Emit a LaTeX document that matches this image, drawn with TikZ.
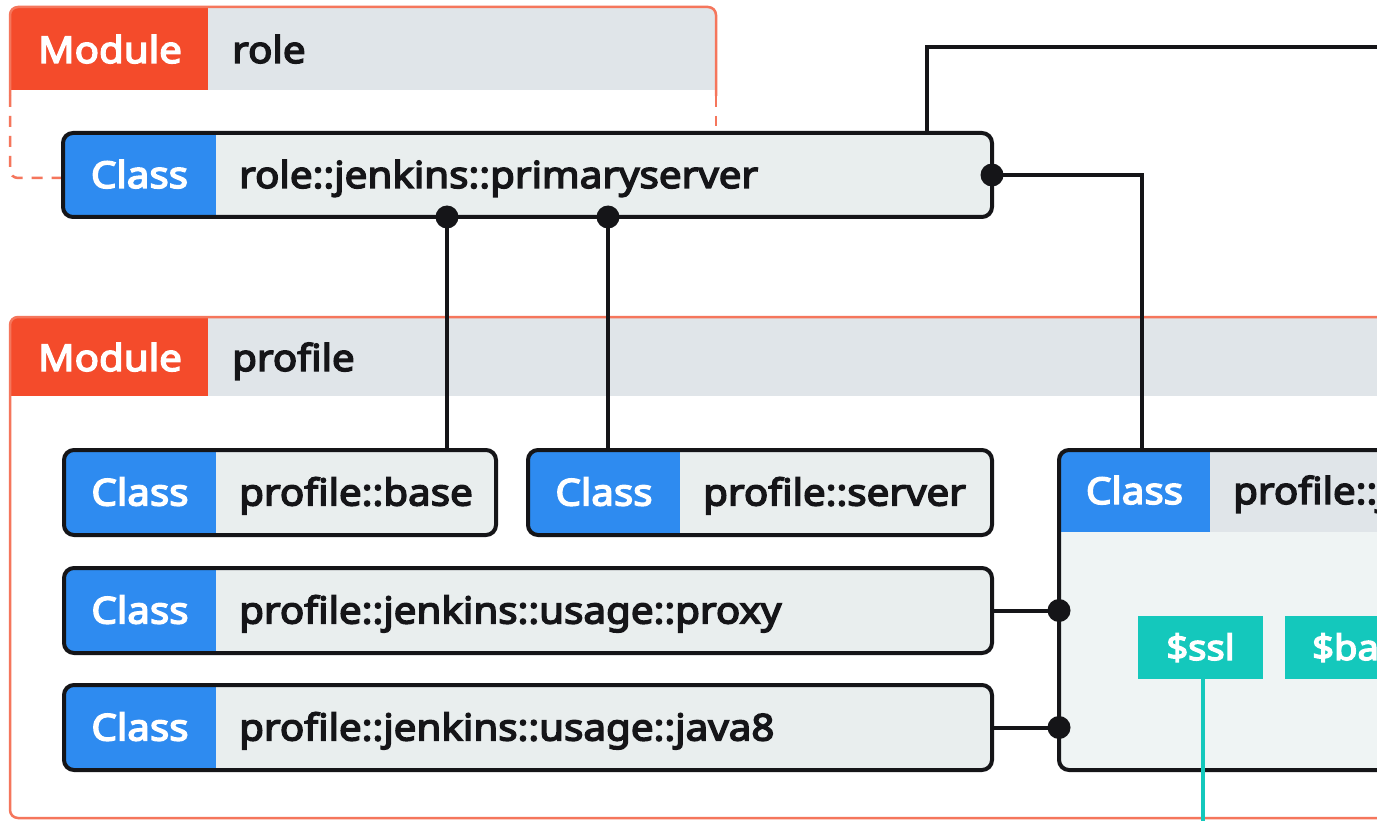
\documentclass[tikz,border=0pt]{standalone}
\usepackage{fontspec}
\setmainfont{Noto Sans}[FakeStretch=1.09, AutoFakeBold=4]
\definecolor{modorange}{HTML}{F44B2B}
\definecolor{modborder}{HTML}{F5765C}
\definecolor{hdrgray}{HTML}{E0E5E9}
\definecolor{clsblue}{HTML}{2E8BF0}
\definecolor{clsgray}{HTML}{E9EEEE}
\definecolor{bodyfill}{HTML}{EFF4F4}
\definecolor{varteal}{HTML}{14C8BC}
\definecolor{ink}{HTML}{151518}
\tikzset{
  lnk/.style={draw=ink, line width=4pt},
  jdot/.style={circle, fill=ink, inner sep=0pt, minimum size=23pt},
  clsfill/.style={rectangle, fill=clsgray, rounded corners=10pt, inner sep=0pt, outer sep=0pt},
  clsborder/.style={draw=ink, line width=4pt, rounded corners=10pt},
  whitetxt/.style={text=white, inner sep=0pt, anchor=base},
  darktxt/.style={text=ink, inner sep=0pt, anchor=base west},
  modline/.style={draw=modborder, line width=2.5pt, rounded corners=8pt},
  moddash/.style={modline, dash pattern=on 11pt off 9pt},
  bigfont/.style={font=\bfseries\fontsize{37}{40}\selectfont},
  varfont/.style={font=\bfseries\fontsize{35}{38}\selectfont},
}
\newcommand\clsbox[7]{%
  \node[clsfill, minimum width={#4-#2}, minimum height={#5-#3}] (#1) at ({(#2+#4)/2},{(#3+#5)/2}) {};
  \begin{scope}
    \clip[rounded corners=10pt] (#2,#3) rectangle (#4,#5);
    \fill[clsblue] (#2,#3) rectangle (#6,#5);
  \end{scope}
  \draw[clsborder] (#1.north west) rectangle (#1.south east);
  \node[whitetxt] (#1-k) at ({(#2+#6)/2},{(#3+#5)/2+13}) {Class};
  \node[darktxt] (#1-t) at ({#6+23},{(#3+#5)/2+13}) {#7};
}
\begin{document}
\begin{tikzpicture}[x=1pt,y=-1pt,bigfont]
\useasboundingbox (0,0) rectangle (1377,821);
\clip (0,0) rectangle (1377,821);
\fill[white] (0,0) rectangle (1377,821);

% ---- Module role
\begin{scope}
  \clip[rounded corners=8pt] (10,7) rectangle (716,130);
  \fill[hdrgray] (10,7) rectangle (716,90);
  \fill[modorange] (10,7) rectangle (208,90);
\end{scope}
\draw[modline] (10,96) -- (10,7) -- (716,7) -- (716,96);
\draw[moddash] (10,96) -- (10,178) -- (62,178);
\draw[moddash] (716,96) -- (716,126);
\node[whitetxt] (role-k) at (110,63) {Module};
\node[darktxt] (role-t) at (232,63) {role};

% ---- Module profile
\begin{scope}
  \clip[rounded corners=8pt] (10,317) rectangle (1400,818);
  \fill[hdrgray] (10,317) rectangle (1400,396);
  \fill[modorange] (10,317) rectangle (208,396);
\end{scope}
\draw[modline] (10,317) rectangle (1400,818);
\node[whitetxt] (prof-k) at (110,371) {Module};
\node[darktxt] (prof-t) at (232,371) {profile};

% ---- classes
\clsbox{ps}{63}{133}{992}{217}{216}{role::jenkins::primaryserver}
\clsbox{base}{64}{450}{496}{535}{216}{profile::base}
\clsbox{server}{528}{450}{992}{535}{680}{profile::server}
\clsbox{proxy}{64}{568}{992}{653}{216}{profile::jenkins::usage::proxy}
\clsbox{java}{64}{685}{992}{770}{216}{profile::jenkins::usage::java8}

% ---- big class
\node[rectangle, fill=bodyfill, rounded corners=10pt, inner sep=0pt, outer sep=0pt,
      minimum width=341, minimum height=320] (big) at (1229.5,610) {};
\begin{scope}
  \clip[rounded corners=10pt] (1059,450) rectangle (1400,770);
  \fill[hdrgray] (1059,450) rectangle (1400,532);
  \fill[clsblue] (1059,450) rectangle (1210,532);
\end{scope}
\draw[clsborder] (big.north west) rectangle (big.south east);
\node[whitetxt] (big-k) at (1134.5,504) {Class};
\node[darktxt] (big-t) at (1233,504) {profile::j};

% ---- parameters
\node[rectangle, fill=varteal, inner sep=0pt, minimum width=125, minimum height=63] (ssl) at (1200.5,647.5) {};
\node[whitetxt, varfont] (ssl-t) at (1200.5,660) {\$ssl};
\node[rectangle, fill=varteal, inner sep=0pt, minimum width=115, minimum height=63] (ba) at (1342.5,647.5) {};
\node[whitetxt, varfont, anchor=base west] (ba-t) at (1312,660) {\$ba};
\coordinate (sslend) at (1203,830);
\draw[varteal, line width=3.5pt] (ssl.south -| sslend) -- (sslend);

% ---- connectors
\coordinate (c1) at (447,0);
\coordinate (c2) at (608,0);
\coordinate (c3) at (927,0);
\coordinate (c4) at (1142,0);
\coordinate (topend) at (1400,47);
\draw[lnk] (ps.south -| c1) -- (base.north -| c1);
\draw[lnk] (ps.south -| c2) -- (server.north -| c2);
\draw[lnk] (ps.north -| c3) |- (topend);
\draw[lnk] (ps.east) -| (big.north -| c4);
\draw[lnk] (proxy.east) -- (proxy.east -| big.west);
\draw[lnk] (java.east) -- (java.east -| big.west);
\node[jdot] (d1) at (ps.south -| c1) {};
\node[jdot] (d2) at (ps.south -| c2) {};
\node[jdot] (d3) at (ps.east) {};
\node[jdot] (d4) at (proxy.east -| big.west) {};
\node[jdot] (d5) at (java.east -| big.west) {};
\end{tikzpicture}
\end{document}
